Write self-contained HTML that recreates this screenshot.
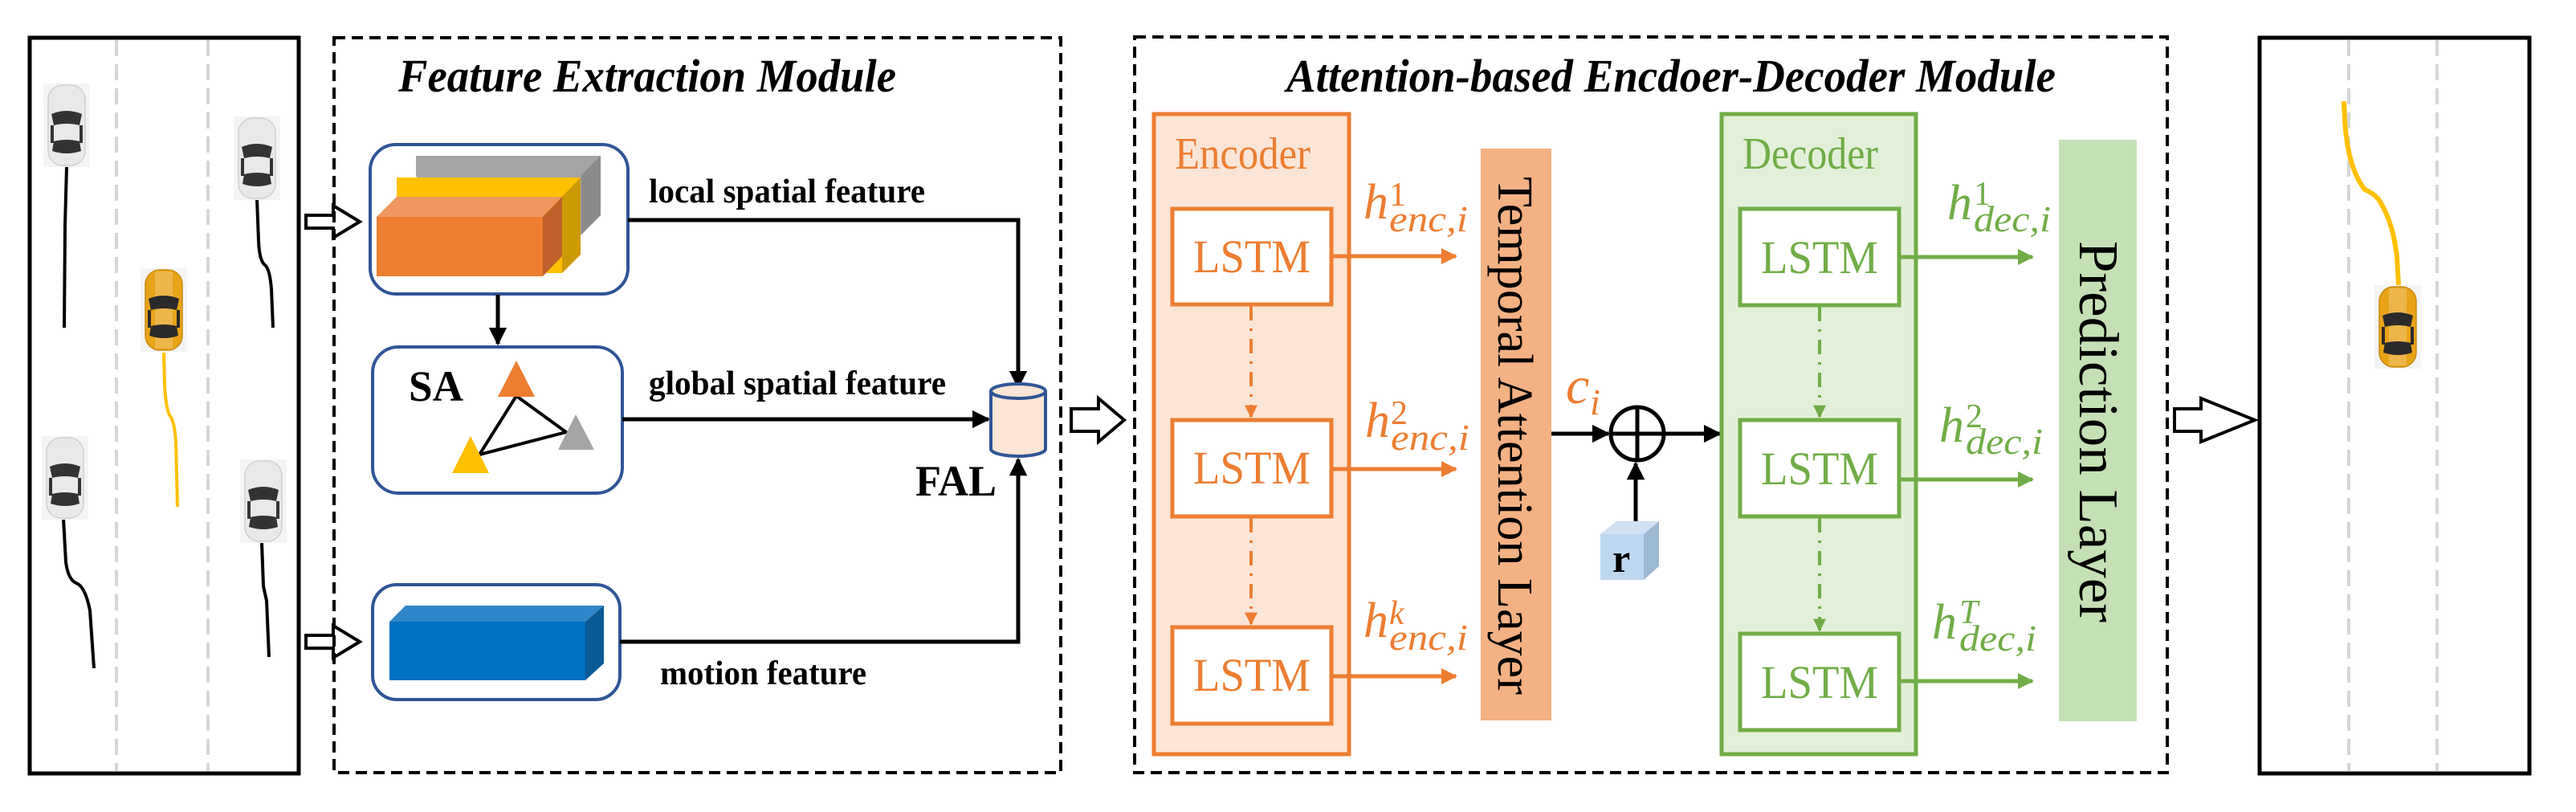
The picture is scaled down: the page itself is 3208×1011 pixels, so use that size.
<!DOCTYPE html>
<html><head><meta charset="utf-8"><style>html,body{margin:0;padding:0;background:#fff}svg{display:block}</style></head>
<body>
<svg width="3208" height="1011" viewBox="0 0 3208 1011" xmlns="http://www.w3.org/2000/svg">
<defs>
<marker id="ab" viewBox="0 0 10 10" refX="9" refY="5" markerWidth="4.5" markerHeight="4.5" orient="auto" markerUnits="strokeWidth"><path d="M0,0 L10,5 L0,10 z" fill="#000"/></marker>
<marker id="ao" viewBox="0 0 10 10" refX="9" refY="5" markerWidth="4" markerHeight="4" orient="auto" markerUnits="strokeWidth"><path d="M0,0 L10,5 L0,10 z" fill="#ED7D31"/></marker>
<marker id="ag" viewBox="0 0 10 10" refX="9" refY="5" markerWidth="4" markerHeight="4" orient="auto" markerUnits="strokeWidth"><path d="M0,0 L10,5 L0,10 z" fill="#70AD47"/></marker>
<g id="wcar">
<rect x="0" y="0" width="58" height="104" fill="#f4f4f4"/>
<rect x="6" y="2" width="46" height="100" rx="18" fill="#e9e9e9" stroke="#cfcfcf" stroke-width="1.5"/>
<path d="M10,38 Q29,30 48,38 L45,52 Q29,48 13,52 z" fill="#333"/>
<path d="M13,72 Q29,68 45,72 L47,84 Q29,90 11,84 z" fill="#333"/>
<rect x="9" y="52" width="4" height="22" fill="#333"/><rect x="45" y="52" width="4" height="22" fill="#333"/>
</g>
<g id="ycar">
<rect x="0" y="0" width="58" height="104" fill="#f4f4f4"/>
<rect x="6" y="2" width="46" height="100" rx="18" fill="#E8A317" stroke="#c88a10" stroke-width="1.5"/>
<rect x="18" y="4" width="22" height="96" fill="#EDB54A"/>
<path d="M10,38 Q29,30 48,38 L45,52 Q29,48 13,52 z" fill="#2a2a2a"/>
<path d="M13,72 Q29,68 45,72 L47,84 Q29,90 11,84 z" fill="#2a2a2a"/>
<rect x="9" y="52" width="4" height="22" fill="#2a2a2a"/><rect x="45" y="52" width="4" height="22" fill="#2a2a2a"/>
</g>
</defs>

<rect x="37" y="47" width="335" height="916" fill="none" stroke="#000" stroke-width="5"/>
<line x1="145" y1="50" x2="145" y2="960" stroke="#d6d6d6" stroke-width="4" stroke-dasharray="20,10"/>
<line x1="259" y1="50" x2="259" y2="960" stroke="#d6d6d6" stroke-width="4" stroke-dasharray="20,10"/>
<path d="M83,208 L81,280 L80,408" fill="none" stroke="#000" stroke-width="4"/>
<path d="M320,248 L322,300 Q323,325 330,330 Q336,335 338,360 L340,408" fill="none" stroke="#000" stroke-width="4"/>
<path d="M204,439 L205,480 Q207,512 212,518 Q217,524 219,550 L221,631" fill="none" stroke="#FFC000" stroke-width="4"/>
<path d="M79,646 L82,700 Q85,722 95,726 Q106,730 112,760 L117,832" fill="none" stroke="#000" stroke-width="4"/>
<path d="M326,676 L328,730 L332,748 L335,818" fill="none" stroke="#000" stroke-width="4"/>
<use href="#wcar" x="54" y="104"/>
<use href="#wcar" x="291" y="145"/>
<use href="#ycar" x="175" y="334"/>
<use href="#wcar" x="52" y="543"/>
<use href="#wcar" x="299" y="572"/>

<polygon points="381,268 415,268 415,256 448,276 415,296 415,284 381,284" fill="#fff" stroke="#000" stroke-width="4"/>
<polygon points="381,791 415,791 415,779 448,799 415,819 415,807 381,807" fill="#fff" stroke="#000" stroke-width="4"/>

<rect x="416" y="47" width="905" height="915" fill="none" stroke="#000" stroke-width="4" stroke-dasharray="14,8"/>
<text x="806" y="114" font-family="Liberation Serif, serif" font-style="italic" font-weight="bold" font-size="58" text-anchor="middle" textLength="620" lengthAdjust="spacingAndGlyphs">Feature Extraction Module</text>

<rect x="461" y="180" width="321" height="186" rx="32" fill="#fff" stroke="#2F5597" stroke-width="4"/>
<polygon points="518,194 748,194 748,268 724,292 542,292 518,218" fill="#A5A5A5"/>
<polygon points="724,218 748,194 748,268 724,292" fill="#8a8a8a"/>
<polygon points="494,221 723,221 723,317 700,340 494,340" fill="#FFC000"/>
<polygon points="700,245 723,221 723,317 700,340" fill="#CC9A06"/>
<polygon points="494,245 700,245 676,270 469,270" fill="#F09860"/>
<rect x="469" y="270" width="207" height="74" fill="#ED7D31"/>
<polygon points="676,270 700,245 700,319 676,344" fill="#C0602A"/>

<line x1="620" y1="367" x2="620" y2="428" stroke="#000" stroke-width="5" marker-end="url(#ab)"/>

<rect x="464" y="432" width="311" height="182" rx="32" fill="#fff" stroke="#2F5597" stroke-width="4"/>
<text x="509" y="499" font-family="Liberation Serif, serif" font-weight="bold" font-size="54" textLength="68" lengthAdjust="spacingAndGlyphs">SA</text>
<polyline points="643,493 597,566 705,538 643,493" fill="none" stroke="#000" stroke-width="4"/>
<polygon points="643,449 666,494 620,494" fill="#ED7D31"/>
<polygon points="586,543 609,589 563,589" fill="#FFC000"/>
<polygon points="717,516 740,560 695,560" fill="#A5A5A5"/>

<rect x="464" y="728" width="308" height="143" rx="30" fill="#fff" stroke="#2F5597" stroke-width="4"/>
<polygon points="485,774 505,754 752,754 729,774" fill="#2E86C8"/>
<rect x="485" y="774" width="244" height="73" fill="#0070C0"/>
<polygon points="729,774 752,754 752,826 729,847" fill="#0A5A96"/>

<text x="808" y="252" font-family="Liberation Serif, serif" font-weight="bold" font-size="42" textLength="344" lengthAdjust="spacingAndGlyphs">local spatial feature</text>
<text x="808" y="491" font-family="Liberation Serif, serif" font-weight="bold" font-size="42" textLength="370" lengthAdjust="spacingAndGlyphs">global spatial feature</text>
<text x="822" y="852" font-family="Liberation Serif, serif" font-weight="bold" font-size="42" textLength="257" lengthAdjust="spacingAndGlyphs">motion feature</text>
<text x="1140" y="617" font-family="Liberation Serif, serif" font-weight="bold" font-size="54" textLength="101" lengthAdjust="spacingAndGlyphs">FAL</text>

<polyline points="782,274 1268,274 1268,482" fill="none" stroke="#000" stroke-width="5" marker-end="url(#ab)"/>
<line x1="775" y1="522" x2="1231" y2="522" stroke="#000" stroke-width="5" marker-end="url(#ab)"/>
<polyline points="772,799 1268,799 1268,572" fill="none" stroke="#000" stroke-width="5" marker-end="url(#ab)"/>

<path d="M1234,487 L1234,559 A34,9 0 0 0 1302,559 L1302,487" fill="#FBE5D6" stroke="#2F5597" stroke-width="4"/>
<ellipse cx="1268" cy="487" rx="34" ry="9" fill="#FBE5D6" stroke="#2F5597" stroke-width="4"/>

<polygon points="1334,509 1368,509 1368,496 1400,523 1368,550 1368,537 1334,537" fill="#fff" stroke="#000" stroke-width="4"/>

<rect x="1413" y="46" width="1286" height="916" fill="none" stroke="#000" stroke-width="4" stroke-dasharray="14,8"/>
<text x="2081" y="114" font-family="Liberation Serif, serif" font-style="italic" font-weight="bold" font-size="58" text-anchor="middle" textLength="958" lengthAdjust="spacingAndGlyphs">Attention-based Encdoer-Decoder Module</text>

<rect x="1437" y="142" width="243" height="797" fill="#FBE5D6" stroke="#ED7D31" stroke-width="5"/>
<text x="1463" y="210" font-family="Liberation Serif, serif" font-size="56" fill="#ED7D31" textLength="169" lengthAdjust="spacingAndGlyphs">Encoder</text>
<g font-family="Liberation Serif, serif" font-size="58" text-anchor="middle">
<rect x="1460" y="260" width="198" height="119" fill="#fff" stroke="#ED7D31" stroke-width="5"/>
<text x="1559" y="339" fill="#ED7D31" textLength="146" lengthAdjust="spacingAndGlyphs">LSTM</text>
<rect x="1460" y="523" width="198" height="120" fill="#fff" stroke="#ED7D31" stroke-width="5"/>
<text x="1559" y="602" fill="#ED7D31" textLength="146" lengthAdjust="spacingAndGlyphs">LSTM</text>
<rect x="1460" y="781" width="198" height="120" fill="#fff" stroke="#ED7D31" stroke-width="5"/>
<text x="1559" y="860" fill="#ED7D31" textLength="146" lengthAdjust="spacingAndGlyphs">LSTM</text>
</g>
<line x1="1558" y1="381" x2="1558" y2="519" stroke="#ED7D31" stroke-width="4" stroke-dasharray="18,10,3,10" marker-end="url(#ao)"/>
<line x1="1558" y1="645" x2="1558" y2="777" stroke="#ED7D31" stroke-width="4" stroke-dasharray="18,10,3,10" marker-end="url(#ao)"/>
<line x1="1658" y1="319" x2="1813" y2="319" stroke="#ED7D31" stroke-width="5" marker-end="url(#ao)"/>
<line x1="1658" y1="584" x2="1813" y2="584" stroke="#ED7D31" stroke-width="5" marker-end="url(#ao)"/>
<line x1="1658" y1="842" x2="1813" y2="842" stroke="#ED7D31" stroke-width="5" marker-end="url(#ao)"/>

<g font-family="Liberation Serif, serif" font-style="italic" fill="#ED7D31">
<text x="1698" y="272" font-size="62">h</text><text x="1730" y="256" font-size="42" font-style="normal">1</text><text x="1730" y="288" font-size="46" textLength="98" lengthAdjust="spacingAndGlyphs">enc,i</text>
<text x="1700" y="544" font-size="62">h</text><text x="1732" y="528" font-size="42" font-style="normal">2</text><text x="1732" y="560" font-size="46" textLength="98" lengthAdjust="spacingAndGlyphs">enc,i</text>
<text x="1698" y="793" font-size="62">h</text><text x="1730" y="777" font-size="42">k</text><text x="1730" y="809" font-size="46" textLength="98" lengthAdjust="spacingAndGlyphs">enc,i</text>
<text x="1950" y="502" font-size="66">c</text><text x="1980" y="516" font-size="46">i</text>
</g>

<rect x="1844" y="185" width="88" height="712" fill="#F4B183"/>
<text transform="translate(1866,220) rotate(90)" font-family="Liberation Serif, serif" font-size="62" fill="#000" textLength="645" lengthAdjust="spacingAndGlyphs">Temporal Attention Layer</text>

<line x1="1932" y1="540" x2="2003" y2="540" stroke="#000" stroke-width="5" marker-end="url(#ab)"/>
<circle cx="2039" cy="540" r="33" fill="#fff" stroke="#000" stroke-width="5"/>
<line x1="2006" y1="540" x2="2072" y2="540" stroke="#000" stroke-width="5"/>
<line x1="2039" y1="507" x2="2039" y2="573" stroke="#000" stroke-width="5"/>
<line x1="2072" y1="540" x2="2142" y2="540" stroke="#000" stroke-width="5" marker-end="url(#ab)"/>
<line x1="2037" y1="650" x2="2037" y2="577" stroke="#000" stroke-width="5" marker-end="url(#ab)"/>

<polygon points="1993,665 2013,649 2066,649 2047,665" fill="#cfe1f3"/>
<rect x="1993" y="665" width="54" height="57" fill="#BDD7EE"/>
<polygon points="2047,665 2066,649 2066,705 2047,722" fill="#9DB8D2"/>
<text x="2008" y="712" font-family="Liberation Serif, serif" font-weight="bold" font-size="50">r</text>

<rect x="2144" y="142" width="242" height="797" fill="#E2F0D9" stroke="#70AD47" stroke-width="5"/>
<text x="2170" y="210" font-family="Liberation Serif, serif" font-size="56" fill="#70AD47" textLength="169" lengthAdjust="spacingAndGlyphs">Decoder</text>
<g font-family="Liberation Serif, serif" font-size="58" text-anchor="middle">
<rect x="2167" y="260" width="198" height="120" fill="#fff" stroke="#70AD47" stroke-width="5"/>
<text x="2266" y="340" fill="#70AD47" textLength="146" lengthAdjust="spacingAndGlyphs">LSTM</text>
<rect x="2167" y="523" width="198" height="120" fill="#fff" stroke="#70AD47" stroke-width="5"/>
<text x="2266" y="603" fill="#70AD47" textLength="146" lengthAdjust="spacingAndGlyphs">LSTM</text>
<rect x="2167" y="789" width="198" height="120" fill="#fff" stroke="#70AD47" stroke-width="5"/>
<text x="2266" y="869" fill="#70AD47" textLength="146" lengthAdjust="spacingAndGlyphs">LSTM</text>
</g>
<line x1="2266" y1="382" x2="2266" y2="519" stroke="#70AD47" stroke-width="4" stroke-dasharray="18,10,3,10" marker-end="url(#ag)"/>
<line x1="2266" y1="645" x2="2266" y2="785" stroke="#70AD47" stroke-width="4" stroke-dasharray="18,10,3,10" marker-end="url(#ag)"/>
<line x1="2365" y1="320" x2="2531" y2="320" stroke="#70AD47" stroke-width="5" marker-end="url(#ag)"/>
<line x1="2365" y1="597" x2="2531" y2="597" stroke="#70AD47" stroke-width="5" marker-end="url(#ag)"/>
<line x1="2365" y1="848" x2="2531" y2="848" stroke="#70AD47" stroke-width="5" marker-end="url(#ag)"/>

<g font-family="Liberation Serif, serif" font-style="italic" fill="#70AD47">
<text x="2425" y="273" font-size="62">h</text><text x="2458" y="255" font-size="42" font-style="normal">1</text><text x="2458" y="288" font-size="46" textLength="96" lengthAdjust="spacingAndGlyphs">dec,i</text>
<text x="2415" y="550" font-size="62">h</text><text x="2448" y="532" font-size="42" font-style="normal">2</text><text x="2448" y="565" font-size="46" textLength="96" lengthAdjust="spacingAndGlyphs">dec,i</text>
<text x="2406" y="795" font-size="62">h</text><text x="2440" y="776" font-size="42">T</text><text x="2440" y="810" font-size="46" textLength="96" lengthAdjust="spacingAndGlyphs">dec,i</text>
</g>

<rect x="2564" y="174" width="97" height="724" fill="#C5E0B4"/>
<text transform="translate(2590,300) rotate(90)" font-family="Liberation Serif, serif" font-size="70" fill="#000" textLength="475" lengthAdjust="spacingAndGlyphs">Prediction  Layer</text>

<polygon points="2708,509 2741,509 2741,496 2808,523 2741,550 2741,537 2708,537" fill="#fff" stroke="#000" stroke-width="4"/>

<rect x="2814" y="47" width="336" height="916" fill="none" stroke="#000" stroke-width="5"/>
<line x1="2925" y1="50" x2="2925" y2="960" stroke="#d6d6d6" stroke-width="4" stroke-dasharray="20,10"/>
<line x1="3035" y1="50" x2="3035" y2="960" stroke="#d6d6d6" stroke-width="4" stroke-dasharray="20,10"/>
<path d="M2919,126 L2920,150 Q2924,210 2945,236 Q2955,240 2962,248 Q2980,275 2985,320 L2987,355" fill="none" stroke="#FFC000" stroke-width="6"/>
<use href="#ycar" x="2957" y="355"/>
</svg>
</body></html>
